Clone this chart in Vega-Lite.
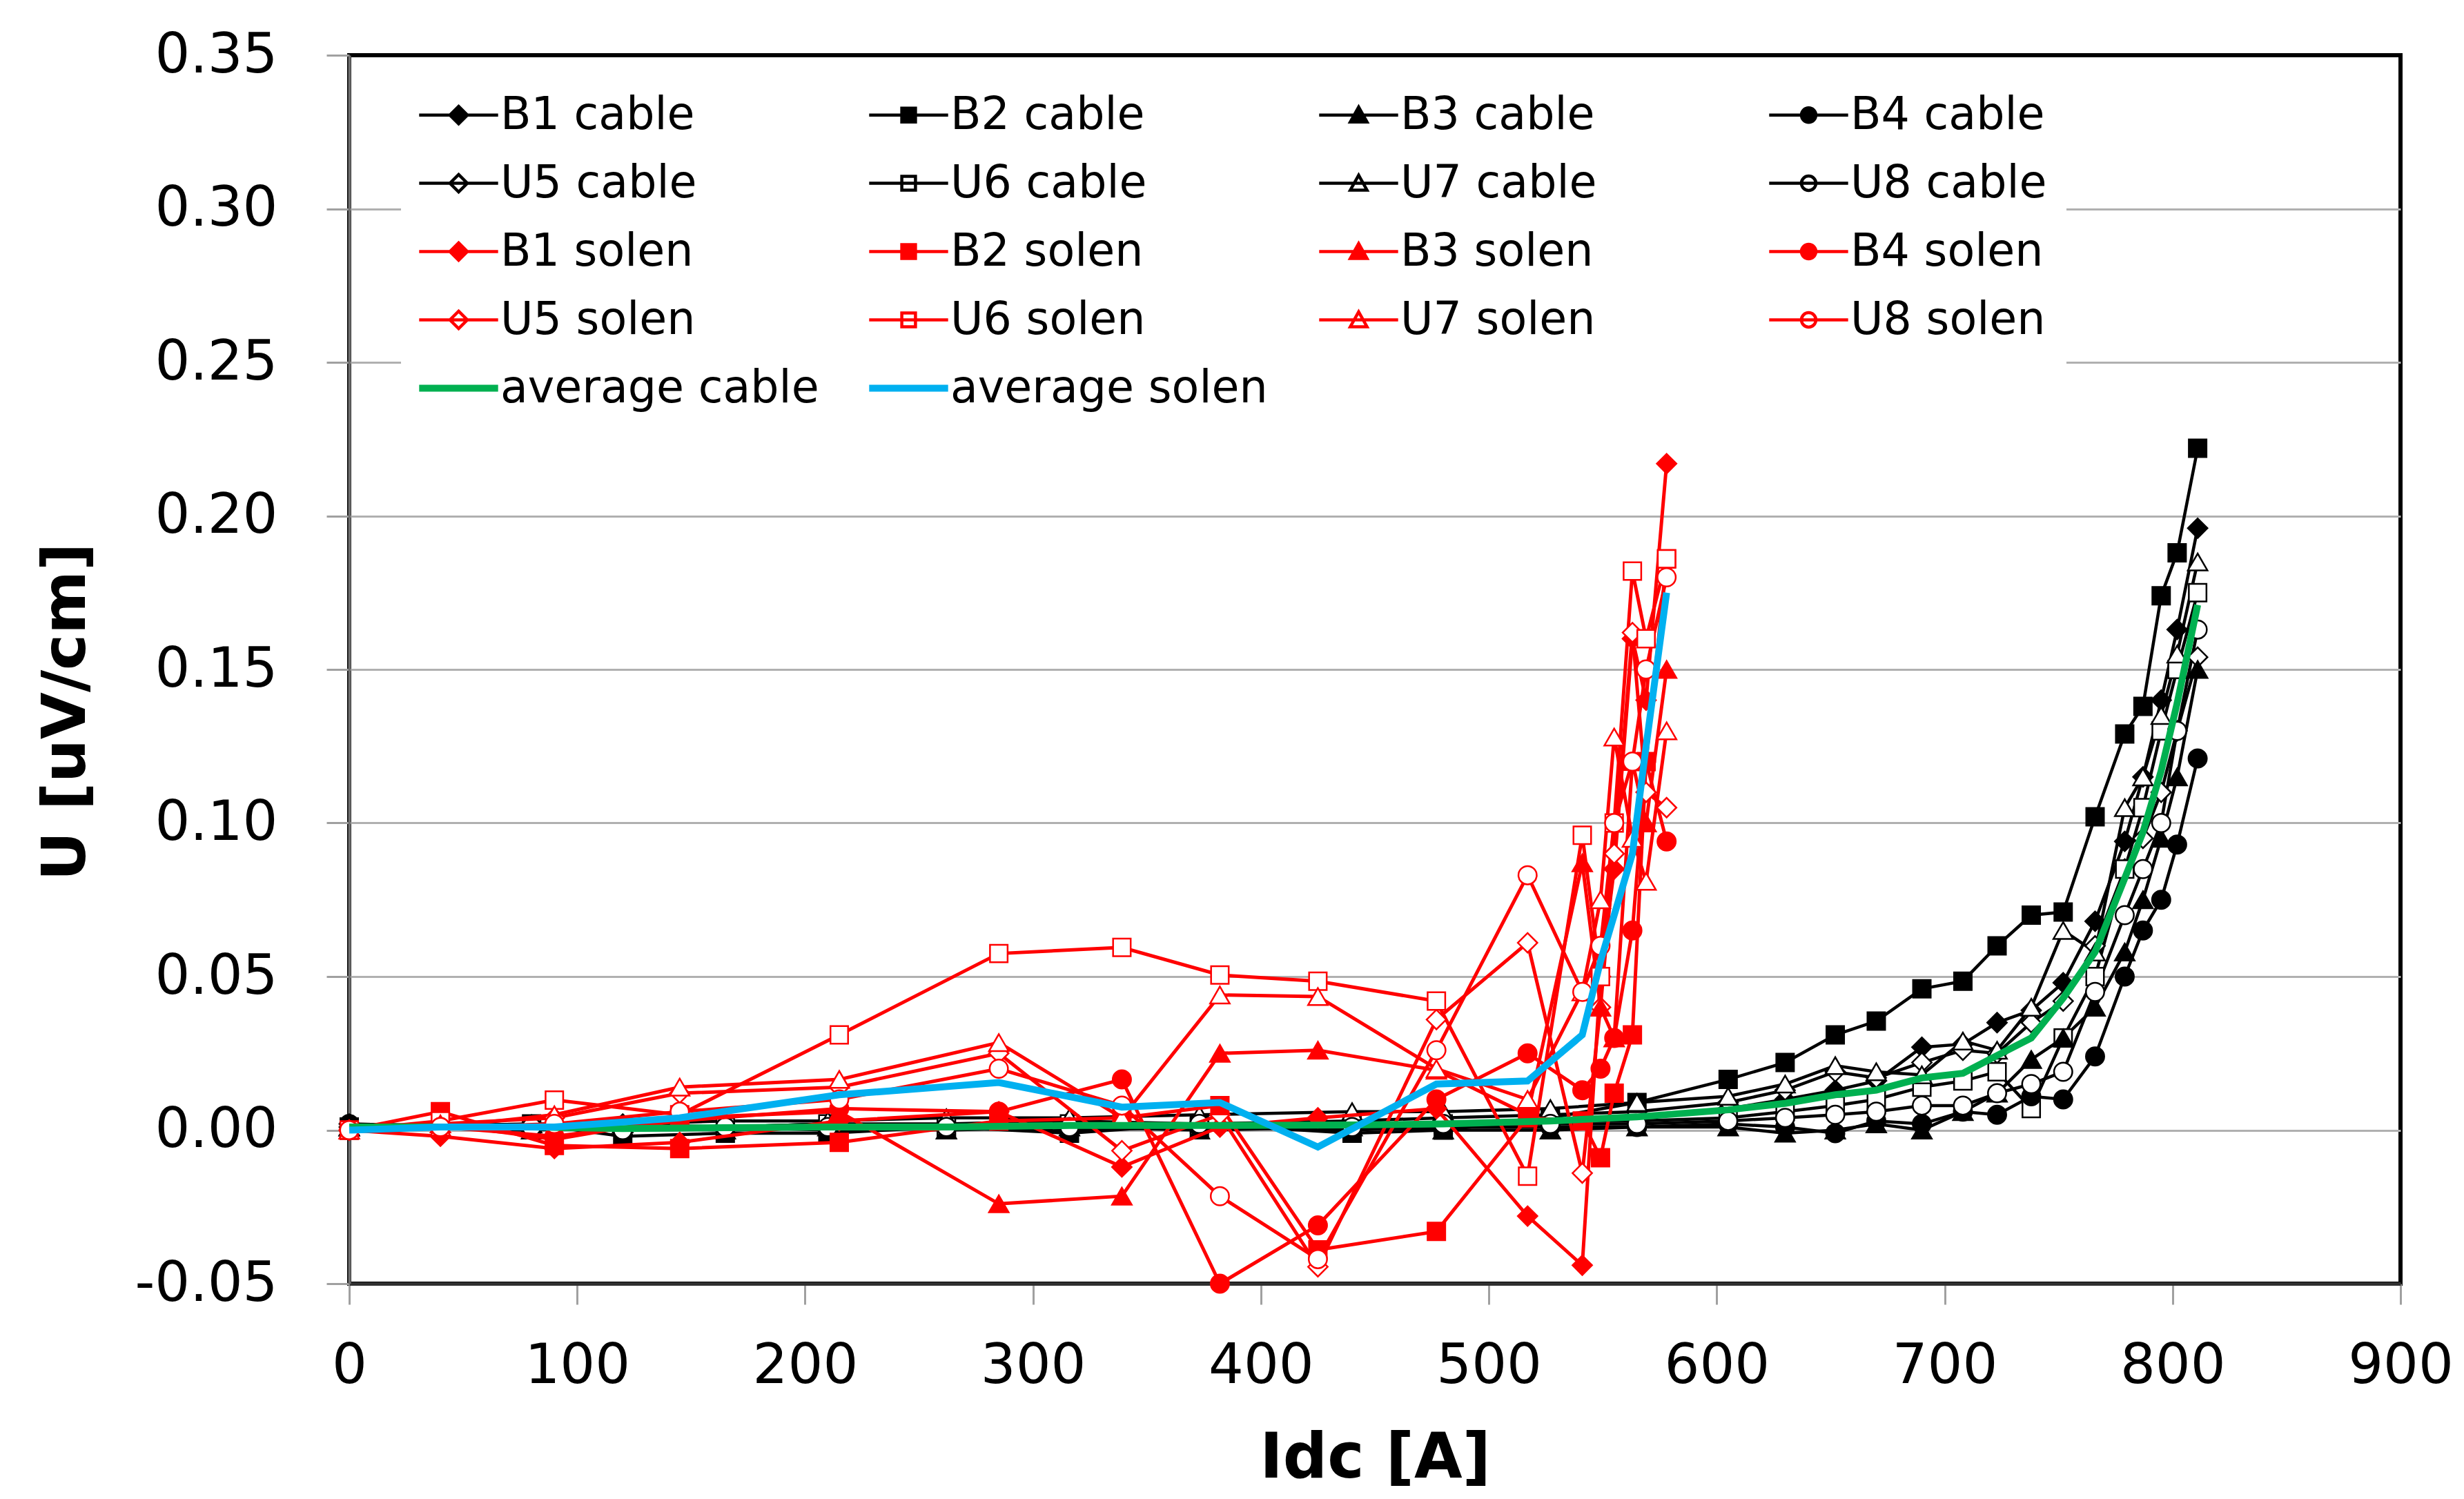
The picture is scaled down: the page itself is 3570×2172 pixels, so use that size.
{
  "$schema": "https://vega.github.io/schema/vega-lite/v6.json",
  "width": 2972,
  "height": 1780,
  "autosize": {"type": "none"},
  "padding": {"left": 506, "top": 80, "right": 92, "bottom": 312},
  "background": "#ffffff",
  "config": {
    "font": "DejaVu Sans",
    "view": {"stroke": "#000000", "strokeWidth": 6},
    "axis": {"labelFont": "DejaVu Sans", "titleFont": "DejaVu Sans", "labelColor": "#000000", "titleColor": "#000000", "labelLimit": 600},
    "axisX": {"grid": false, "tickSize": 30, "tickColor": "#a0a0a0", "tickWidth": 3, "domainColor": "#303030", "domainWidth": 5, "labelFontSize": 80, "labelPadding": 50, "titleFontSize": 90, "titleFontWeight": "bold", "titlePadding": 50, "labelFlush": false},
    "axisY": {"grid": true, "gridWidth": 3, "tickSize": 33, "tickColor": "#a0a0a0", "tickWidth": 3, "domainColor": "#707070", "domainWidth": 4, "labelFontSize": 80, "labelPadding": 71, "titleFontSize": 88, "titleFontWeight": "bold", "titleX": -410, "titleY": 951, "titleBaseline": "middle", "titleAlign": "center", "titleAngle": 270}
  },
  "datasets": {
    "d": [
      {"s":"B1 cable","I":0,"U":0.002},{"s":"B1 cable","I":80,"U":0.001},{"s":"B1 cable","I":120,"U":0.0},{"s":"B1 cable","I":165,"U":0.001},{"s":"B1 cable","I":210,"U":0.002},{"s":"B1 cable","I":262,"U":0.001},{"s":"B1 cable","I":316,"U":0.002},{"s":"B1 cable","I":373,"U":0.001},{"s":"B1 cable","I":440,"U":0.002},{"s":"B1 cable","I":480,"U":0.002},{"s":"B1 cable","I":527,"U":0.003},{"s":"B1 cable","I":565,"U":0.004},{"s":"B1 cable","I":605,"U":0.007},{"s":"B1 cable","I":630,"U":0.010},{"s":"B1 cable","I":652,"U":0.013},{"s":"B1 cable","I":670,"U":0.016},{"s":"B1 cable","I":690,"U":0.027},{"s":"B1 cable","I":708,"U":0.028},{"s":"B1 cable","I":723,"U":0.035},{"s":"B1 cable","I":738,"U":0.039},{"s":"B1 cable","I":752,"U":0.048},{"s":"B1 cable","I":766,"U":0.068},{"s":"B1 cable","I":779,"U":0.094},{"s":"B1 cable","I":787,"U":0.115},{"s":"B1 cable","I":795,"U":0.140},{"s":"B1 cable","I":802,"U":0.163},{"s":"B1 cable","I":811,"U":0.196},
      {"s":"B2 cable","I":0,"U":0.001},{"s":"B2 cable","I":80,"U":0.002},{"s":"B2 cable","I":120,"U":-0.002},{"s":"B2 cable","I":165,"U":-0.001},{"s":"B2 cable","I":210,"U":-0.001},{"s":"B2 cable","I":262,"U":0.001},{"s":"B2 cable","I":316,"U":-0.001},{"s":"B2 cable","I":373,"U":0.002},{"s":"B2 cable","I":440,"U":-0.001},{"s":"B2 cable","I":480,"U":0.0},{"s":"B2 cable","I":527,"U":0.004},{"s":"B2 cable","I":565,"U":0.009},{"s":"B2 cable","I":605,"U":0.0165},{"s":"B2 cable","I":630,"U":0.022},{"s":"B2 cable","I":652,"U":0.031},{"s":"B2 cable","I":670,"U":0.0355},{"s":"B2 cable","I":690,"U":0.046},{"s":"B2 cable","I":708,"U":0.0485},{"s":"B2 cable","I":723,"U":0.060},{"s":"B2 cable","I":738,"U":0.070},{"s":"B2 cable","I":752,"U":0.071},{"s":"B2 cable","I":766,"U":0.102},{"s":"B2 cable","I":779,"U":0.129},{"s":"B2 cable","I":787,"U":0.138},{"s":"B2 cable","I":795,"U":0.174},{"s":"B2 cable","I":802,"U":0.188},{"s":"B2 cable","I":811,"U":0.222},
      {"s":"B3 cable","I":0,"U":0.001},{"s":"B3 cable","I":80,"U":0.0},{"s":"B3 cable","I":120,"U":0.001},{"s":"B3 cable","I":165,"U":0.0},{"s":"B3 cable","I":210,"U":0.001},{"s":"B3 cable","I":262,"U":0.0},{"s":"B3 cable","I":316,"U":0.001},{"s":"B3 cable","I":373,"U":0.0},{"s":"B3 cable","I":440,"U":0.001},{"s":"B3 cable","I":480,"U":0.0},{"s":"B3 cable","I":527,"U":0.0},{"s":"B3 cable","I":565,"U":0.001},{"s":"B3 cable","I":605,"U":0.001},{"s":"B3 cable","I":630,"U":-0.001},{"s":"B3 cable","I":652,"U":0.0},{"s":"B3 cable","I":670,"U":0.002},{"s":"B3 cable","I":690,"U":0.0},{"s":"B3 cable","I":708,"U":0.006},{"s":"B3 cable","I":723,"U":0.012},{"s":"B3 cable","I":738,"U":0.023},{"s":"B3 cable","I":752,"U":0.030},{"s":"B3 cable","I":766,"U":0.040},{"s":"B3 cable","I":779,"U":0.058},{"s":"B3 cable","I":787,"U":0.075},{"s":"B3 cable","I":795,"U":0.095},{"s":"B3 cable","I":802,"U":0.115},{"s":"B3 cable","I":811,"U":0.150},
      {"s":"B4 cable","I":0,"U":0.002},{"s":"B4 cable","I":80,"U":0.001},{"s":"B4 cable","I":120,"U":0.0},{"s":"B4 cable","I":165,"U":0.001},{"s":"B4 cable","I":210,"U":0.0},{"s":"B4 cable","I":262,"U":0.001},{"s":"B4 cable","I":316,"U":0.0},{"s":"B4 cable","I":373,"U":0.001},{"s":"B4 cable","I":440,"U":0.0},{"s":"B4 cable","I":480,"U":0.001},{"s":"B4 cable","I":527,"U":0.001},{"s":"B4 cable","I":565,"U":0.001},{"s":"B4 cable","I":605,"U":0.002},{"s":"B4 cable","I":630,"U":0.001},{"s":"B4 cable","I":652,"U":-0.001},{"s":"B4 cable","I":670,"U":0.003},{"s":"B4 cable","I":690,"U":0.002},{"s":"B4 cable","I":708,"U":0.006},{"s":"B4 cable","I":723,"U":0.005},{"s":"B4 cable","I":738,"U":0.011},{"s":"B4 cable","I":752,"U":0.010},{"s":"B4 cable","I":766,"U":0.024},{"s":"B4 cable","I":779,"U":0.050},{"s":"B4 cable","I":787,"U":0.065},{"s":"B4 cable","I":795,"U":0.075},{"s":"B4 cable","I":802,"U":0.093},{"s":"B4 cable","I":811,"U":0.121},
      {"s":"U5 cable","I":0,"U":0.001},{"s":"U5 cable","I":80,"U":0.001},{"s":"U5 cable","I":120,"U":0.002},{"s":"U5 cable","I":165,"U":0.001},{"s":"U5 cable","I":210,"U":0.002},{"s":"U5 cable","I":262,"U":0.002},{"s":"U5 cable","I":316,"U":0.003},{"s":"U5 cable","I":373,"U":0.002},{"s":"U5 cable","I":440,"U":0.003},{"s":"U5 cable","I":480,"U":0.004},{"s":"U5 cable","I":527,"U":0.005},{"s":"U5 cable","I":565,"U":0.006},{"s":"U5 cable","I":605,"U":0.009},{"s":"U5 cable","I":630,"U":0.013},{"s":"U5 cable","I":652,"U":0.019},{"s":"U5 cable","I":670,"U":0.017},{"s":"U5 cable","I":690,"U":0.022},{"s":"U5 cable","I":708,"U":0.026},{"s":"U5 cable","I":723,"U":0.025},{"s":"U5 cable","I":738,"U":0.035},{"s":"U5 cable","I":752,"U":0.042},{"s":"U5 cable","I":766,"U":0.060},{"s":"U5 cable","I":779,"U":0.085},{"s":"U5 cable","I":787,"U":0.095},{"s":"U5 cable","I":795,"U":0.110},{"s":"U5 cable","I":802,"U":0.130},{"s":"U5 cable","I":811,"U":0.154},
      {"s":"U6 cable","I":0,"U":0.0},{"s":"U6 cable","I":80,"U":0.001},{"s":"U6 cable","I":120,"U":0.001},{"s":"U6 cable","I":165,"U":0.001},{"s":"U6 cable","I":210,"U":0.002},{"s":"U6 cable","I":262,"U":0.001},{"s":"U6 cable","I":316,"U":0.002},{"s":"U6 cable","I":373,"U":0.001},{"s":"U6 cable","I":440,"U":0.002},{"s":"U6 cable","I":480,"U":0.002},{"s":"U6 cable","I":527,"U":0.003},{"s":"U6 cable","I":565,"U":0.003},{"s":"U6 cable","I":605,"U":0.004},{"s":"U6 cable","I":630,"U":0.006},{"s":"U6 cable","I":652,"U":0.008},{"s":"U6 cable","I":670,"U":0.010},{"s":"U6 cable","I":690,"U":0.014},{"s":"U6 cable","I":708,"U":0.016},{"s":"U6 cable","I":723,"U":0.019},{"s":"U6 cable","I":738,"U":0.007},{"s":"U6 cable","I":752,"U":0.030},{"s":"U6 cable","I":766,"U":0.050},{"s":"U6 cable","I":779,"U":0.085},{"s":"U6 cable","I":787,"U":0.105},{"s":"U6 cable","I":795,"U":0.130},{"s":"U6 cable","I":802,"U":0.150},{"s":"U6 cable","I":811,"U":0.175},
      {"s":"U7 cable","I":0,"U":0.001},{"s":"U7 cable","I":80,"U":0.002},{"s":"U7 cable","I":120,"U":0.002},{"s":"U7 cable","I":165,"U":0.003},{"s":"U7 cable","I":210,"U":0.003},{"s":"U7 cable","I":262,"U":0.004},{"s":"U7 cable","I":316,"U":0.004},{"s":"U7 cable","I":373,"U":0.005},{"s":"U7 cable","I":440,"U":0.006},{"s":"U7 cable","I":480,"U":0.006},{"s":"U7 cable","I":527,"U":0.007},{"s":"U7 cable","I":565,"U":0.009},{"s":"U7 cable","I":605,"U":0.011},{"s":"U7 cable","I":630,"U":0.015},{"s":"U7 cable","I":652,"U":0.021},{"s":"U7 cable","I":670,"U":0.019},{"s":"U7 cable","I":690,"U":0.018},{"s":"U7 cable","I":708,"U":0.029},{"s":"U7 cable","I":723,"U":0.026},{"s":"U7 cable","I":738,"U":0.040},{"s":"U7 cable","I":752,"U":0.065},{"s":"U7 cable","I":766,"U":0.058},{"s":"U7 cable","I":779,"U":0.105},{"s":"U7 cable","I":787,"U":0.115},{"s":"U7 cable","I":795,"U":0.135},{"s":"U7 cable","I":802,"U":0.155},{"s":"U7 cable","I":811,"U":0.185},
      {"s":"U8 cable","I":0,"U":0.0},{"s":"U8 cable","I":80,"U":0.001},{"s":"U8 cable","I":120,"U":0.0},{"s":"U8 cable","I":165,"U":0.001},{"s":"U8 cable","I":210,"U":0.001},{"s":"U8 cable","I":262,"U":0.001},{"s":"U8 cable","I":316,"U":0.001},{"s":"U8 cable","I":373,"U":0.002},{"s":"U8 cable","I":440,"U":0.001},{"s":"U8 cable","I":480,"U":0.002},{"s":"U8 cable","I":527,"U":0.002},{"s":"U8 cable","I":565,"U":0.002},{"s":"U8 cable","I":605,"U":0.003},{"s":"U8 cable","I":630,"U":0.004},{"s":"U8 cable","I":652,"U":0.005},{"s":"U8 cable","I":670,"U":0.006},{"s":"U8 cable","I":690,"U":0.008},{"s":"U8 cable","I":708,"U":0.008},{"s":"U8 cable","I":723,"U":0.012},{"s":"U8 cable","I":738,"U":0.015},{"s":"U8 cable","I":752,"U":0.019},{"s":"U8 cable","I":766,"U":0.045},{"s":"U8 cable","I":779,"U":0.070},{"s":"U8 cable","I":787,"U":0.085},{"s":"U8 cable","I":795,"U":0.100},{"s":"U8 cable","I":802,"U":0.130},{"s":"U8 cable","I":811,"U":0.163},
      {"s":"B1 solen","I":0,"U":0},{"s":"B1 solen","I":40,"U":-0.002},{"s":"B1 solen","I":90,"U":-0.006},{"s":"B1 solen","I":145,"U":-0.004},{"s":"B1 solen","I":215,"U":0.003},{"s":"B1 solen","I":285,"U":0.006},{"s":"B1 solen","I":339,"U":-0.012},{"s":"B1 solen","I":382,"U":0.001},{"s":"B1 solen","I":425,"U":0.004},{"s":"B1 solen","I":477,"U":0.007},{"s":"B1 solen","I":517,"U":-0.028},{"s":"B1 solen","I":541,"U":-0.044},{"s":"B1 solen","I":549,"U":0.050},{"s":"B1 solen","I":555,"U":0.085},{"s":"B1 solen","I":563,"U":0.160},{"s":"B1 solen","I":569,"U":0.140},{"s":"B1 solen","I":578,"U":0.217},
      {"s":"B2 solen","I":0,"U":0},{"s":"B2 solen","I":40,"U":0.006},{"s":"B2 solen","I":90,"U":-0.005},{"s":"B2 solen","I":145,"U":-0.006},{"s":"B2 solen","I":215,"U":-0.004},{"s":"B2 solen","I":285,"U":0.003},{"s":"B2 solen","I":339,"U":0.004},{"s":"B2 solen","I":382,"U":0.008},{"s":"B2 solen","I":425,"U":-0.039},{"s":"B2 solen","I":477,"U":-0.033},{"s":"B2 solen","I":517,"U":0.004},{"s":"B2 solen","I":541,"U":0.003},{"s":"B2 solen","I":549,"U":-0.009},{"s":"B2 solen","I":555,"U":0.012},{"s":"B2 solen","I":563,"U":0.031},{"s":"B2 solen","I":569,"U":0.120},{"s":"B2 solen","I":578,"U":0.186},
      {"s":"B3 solen","I":0,"U":0},{"s":"B3 solen","I":40,"U":0.002},{"s":"B3 solen","I":90,"U":-0.003},{"s":"B3 solen","I":145,"U":0.004},{"s":"B3 solen","I":215,"U":0.006},{"s":"B3 solen","I":285,"U":-0.024},{"s":"B3 solen","I":339,"U":-0.0215},{"s":"B3 solen","I":382,"U":0.025},{"s":"B3 solen","I":425,"U":0.026},{"s":"B3 solen","I":477,"U":0.0195},{"s":"B3 solen","I":517,"U":0.005},{"s":"B3 solen","I":541,"U":0.087},{"s":"B3 solen","I":549,"U":0.040},{"s":"B3 solen","I":555,"U":0.030},{"s":"B3 solen","I":563,"U":0.120},{"s":"B3 solen","I":569,"U":0.100},{"s":"B3 solen","I":578,"U":0.150},
      {"s":"B4 solen","I":0,"U":0},{"s":"B4 solen","I":40,"U":0.001},{"s":"B4 solen","I":90,"U":-0.002},{"s":"B4 solen","I":145,"U":0.003},{"s":"B4 solen","I":215,"U":0.007},{"s":"B4 solen","I":285,"U":0.006},{"s":"B4 solen","I":339,"U":0.0165},{"s":"B4 solen","I":382,"U":-0.050},{"s":"B4 solen","I":425,"U":-0.031},{"s":"B4 solen","I":477,"U":0.010},{"s":"B4 solen","I":517,"U":0.025},{"s":"B4 solen","I":541,"U":0.013},{"s":"B4 solen","I":549,"U":0.020},{"s":"B4 solen","I":555,"U":0.030},{"s":"B4 solen","I":563,"U":0.065},{"s":"B4 solen","I":569,"U":0.120},{"s":"B4 solen","I":578,"U":0.094},
      {"s":"U5 solen","I":0,"U":0},{"s":"U5 solen","I":40,"U":0.002},{"s":"U5 solen","I":90,"U":0.004},{"s":"U5 solen","I":145,"U":0.012},{"s":"U5 solen","I":215,"U":0.014},{"s":"U5 solen","I":285,"U":0.025},{"s":"U5 solen","I":339,"U":-0.0067},{"s":"U5 solen","I":382,"U":0.005},{"s":"U5 solen","I":425,"U":-0.0445},{"s":"U5 solen","I":477,"U":0.036},{"s":"U5 solen","I":517,"U":0.061},{"s":"U5 solen","I":541,"U":-0.014},{"s":"U5 solen","I":549,"U":0.040},{"s":"U5 solen","I":555,"U":0.090},{"s":"U5 solen","I":563,"U":0.162},{"s":"U5 solen","I":569,"U":0.110},{"s":"U5 solen","I":578,"U":0.105},
      {"s":"U6 solen","I":0,"U":0},{"s":"U6 solen","I":40,"U":0.003},{"s":"U6 solen","I":90,"U":0.0098},{"s":"U6 solen","I":145,"U":0.005},{"s":"U6 solen","I":215,"U":0.031},{"s":"U6 solen","I":285,"U":0.0575},{"s":"U6 solen","I":339,"U":0.0595},{"s":"U6 solen","I":382,"U":0.0505},{"s":"U6 solen","I":425,"U":0.0485},{"s":"U6 solen","I":477,"U":0.042},{"s":"U6 solen","I":517,"U":-0.015},{"s":"U6 solen","I":541,"U":0.096},{"s":"U6 solen","I":549,"U":0.050},{"s":"U6 solen","I":555,"U":0.100},{"s":"U6 solen","I":563,"U":0.182},{"s":"U6 solen","I":569,"U":0.160},{"s":"U6 solen","I":578,"U":0.186},
      {"s":"U7 solen","I":0,"U":0},{"s":"U7 solen","I":40,"U":0.001},{"s":"U7 solen","I":90,"U":0.005},{"s":"U7 solen","I":145,"U":0.014},{"s":"U7 solen","I":215,"U":0.0165},{"s":"U7 solen","I":285,"U":0.0285},{"s":"U7 solen","I":339,"U":0.004},{"s":"U7 solen","I":382,"U":0.044},{"s":"U7 solen","I":425,"U":0.0435},{"s":"U7 solen","I":477,"U":0.020},{"s":"U7 solen","I":517,"U":0.010},{"s":"U7 solen","I":541,"U":0.045},{"s":"U7 solen","I":549,"U":0.075},{"s":"U7 solen","I":555,"U":0.128},{"s":"U7 solen","I":563,"U":0.095},{"s":"U7 solen","I":569,"U":0.081},{"s":"U7 solen","I":578,"U":0.130},
      {"s":"U8 solen","I":0,"U":0},{"s":"U8 solen","I":40,"U":0.001},{"s":"U8 solen","I":90,"U":0.002},{"s":"U8 solen","I":145,"U":0.006},{"s":"U8 solen","I":215,"U":0.010},{"s":"U8 solen","I":285,"U":0.020},{"s":"U8 solen","I":339,"U":0.008},{"s":"U8 solen","I":382,"U":-0.0215},{"s":"U8 solen","I":425,"U":-0.042},{"s":"U8 solen","I":477,"U":0.026},{"s":"U8 solen","I":517,"U":0.083},{"s":"U8 solen","I":541,"U":0.045},{"s":"U8 solen","I":549,"U":0.060},{"s":"U8 solen","I":555,"U":0.100},{"s":"U8 solen","I":563,"U":0.120},{"s":"U8 solen","I":569,"U":0.150},{"s":"U8 solen","I":578,"U":0.180},
      {"s":"average cable","I":0,"U":0.001},{"s":"average cable","I":80,"U":0.001},{"s":"average cable","I":120,"U":0.0005},{"s":"average cable","I":165,"U":0.0008},{"s":"average cable","I":210,"U":0.001},{"s":"average cable","I":262,"U":0.001},{"s":"average cable","I":316,"U":0.0015},{"s":"average cable","I":373,"U":0.0015},{"s":"average cable","I":440,"U":0.0017},{"s":"average cable","I":480,"U":0.002},{"s":"average cable","I":527,"U":0.003},{"s":"average cable","I":565,"U":0.0043},{"s":"average cable","I":605,"U":0.0066},{"s":"average cable","I":630,"U":0.0087},{"s":"average cable","I":652,"U":0.0115},{"s":"average cable","I":670,"U":0.013},{"s":"average cable","I":690,"U":0.017},{"s":"average cable","I":708,"U":0.0185},{"s":"average cable","I":723,"U":0.0243},{"s":"average cable","I":738,"U":0.030},{"s":"average cable","I":752,"U":0.043},{"s":"average cable","I":766,"U":0.058},{"s":"average cable","I":779,"U":0.082},{"s":"average cable","I":787,"U":0.097},{"s":"average cable","I":795,"U":0.117},{"s":"average cable","I":802,"U":0.139},{"s":"average cable","I":811,"U":0.171},
      {"s":"average solen","I":0,"U":0},{"s":"average solen","I":40,"U":0.001},{"s":"average solen","I":90,"U":0.001},{"s":"average solen","I":145,"U":0.004},{"s":"average solen","I":215,"U":0.0115},{"s":"average solen","I":285,"U":0.0155},{"s":"average solen","I":339,"U":0.0075},{"s":"average solen","I":382,"U":0.009},{"s":"average solen","I":425,"U":-0.0055},{"s":"average solen","I":477,"U":0.015},{"s":"average solen","I":517,"U":0.016},{"s":"average solen","I":541,"U":0.031},{"s":"average solen","I":549,"U":0.055},{"s":"average solen","I":555,"U":0.070},{"s":"average solen","I":563,"U":0.090},{"s":"average solen","I":569,"U":0.125},{"s":"average solen","I":578,"U":0.175}
    ]
  },
  "data": {"name": "d"},
  "encoding": {
    "x": {"field": "I", "type": "quantitative", "scale": {"domain": [0, 900], "nice": false, "zero": false}, "axis": {"values": [0, 100, 200, 300, 400, 500, 600, 700, 800, 900], "title": "Idc [A]"}},
    "y": {"field": "U", "type": "quantitative", "scale": {"domain": [-0.05, 0.35], "nice": false, "zero": false}, "axis": {"values": [-0.05, 0, 0.05, 0.1, 0.15, 0.2, 0.25, 0.3, 0.35], "labelExpr": "replace(format(datum.value, '.2f'), '\u2212', '-')", "title": "U [uV/cm]", "gridColor": {"condition": {"test": "datum.value > 0.34 || datum.value < -0.04", "value": "transparent"}, "value": "#b0b0b0"}}}
  },
  "layer": [
    {
      "transform": [{"filter": "test(/^[BU][0-9] cable$/, datum.s)"}],
      "mark": {"type": "line", "strokeWidth": 4.5},
      "encoding": {"color": {"field": "s", "type": "nominal",
        "scale": {"domain": ["B1 cable","B2 cable","B3 cable","B4 cable","U5 cable","U6 cable","U7 cable","U8 cable","B1 solen","B2 solen","B3 solen","B4 solen","U5 solen","U6 solen","U7 solen","U8 solen","average cable","average solen"], "range": ["#000000","#000000","#000000","#000000","#000000","#000000","#000000","#000000","#ff0000","#ff0000","#ff0000","#ff0000","#ff0000","#ff0000","#ff0000","#ff0000","#00b050","#00b0f0"]},
        "legend": {
          "orient": "none", "legendX": 75, "legendY": 26, "columns": 4, "direction": "horizontal", "title": null,
          "values": ["B1 cable","B2 cable","B3 cable","B4 cable","U5 cable","U6 cable","U7 cable","U8 cable","B1 solen","B2 solen","B3 solen","B4 solen","U5 solen","U6 solen","U7 solen","U8 solen","average cable","average solen"],
          "fillColor": "#ffffff", "padding": 28,
          "labelFont": "DejaVu Sans", "labelFontSize": 65, "labelColor": "#000000", "labelLimit": 1000,
          "symbolSize": 484, "symbolOffset": 23, "labelOffset": 28, "symbolStrokeWidth": 4,
          "rowPadding": 33, "columnPadding": 52, "gridAlign": "all",
          "encode": {"symbols": {"update": {
            "shape": {"signal": "test(/average/, datum.value) ? 'M-5.2,0H5.2' : test(/^(B1|U5)/, datum.value) ? 'M-5.2,0H5.2M0,-1.15L1.15,0L0,1.15L-1.15,0Z' : test(/^(B2|U6)/, datum.value) ? 'M-5.2,0H5.2M-0.9,-0.9H0.9V0.9H-0.9Z' : test(/^(B3|U7)/, datum.value) ? 'M-5.2,0H5.2M0,-1.05L1.1,0.9H-1.1Z' : 'M-5.2,0H5.2M0.95,0A0.95,0.95,0,1,1,-0.95,0A0.95,0.95,0,1,1,0.95,0Z'"},
            "fill": {"scale": "fill", "field": "value"},
            "stroke": {"scale": "color", "field": "value"},
            "strokeWidth": {"signal": "test(/average/, datum.value) ? 10 : 4.5"},
            "opacity": {"value": 1}
          }}}
        }
      }}
    },
    {
      "transform": [{"filter": "test(/^(B1|U5) cable$/, datum.s)"}],
      "mark": {"type": "point", "shape": "diamond", "size": 800, "filled": false, "strokeWidth": 2.5, "opacity": 1},
      "encoding": {
        "color": {"field": "s", "type": "nominal", "legend": null, "scale": {"domain": ["B1 cable","B2 cable","B3 cable","B4 cable","U5 cable","U6 cable","U7 cable","U8 cable","B1 solen","B2 solen","B3 solen","B4 solen","U5 solen","U6 solen","U7 solen","U8 solen","average cable","average solen"], "range": ["#000000","#000000","#000000","#000000","#000000","#000000","#000000","#000000","#ff0000","#ff0000","#ff0000","#ff0000","#ff0000","#ff0000","#ff0000","#ff0000","#00b050","#00b0f0"]}},
        "fill": {"field": "s", "type": "nominal", "legend": null, "scale": {"domain": ["B1 cable","B2 cable","B3 cable","B4 cable","U5 cable","U6 cable","U7 cable","U8 cable","B1 solen","B2 solen","B3 solen","B4 solen","U5 solen","U6 solen","U7 solen","U8 solen","average cable","average solen"], "range": ["#000000","#000000","#000000","#000000","#ffffff","#ffffff","#ffffff","#ffffff","#ff0000","#ff0000","#ff0000","#ff0000","#ffffff","#ffffff","#ffffff","#ffffff","transparent","transparent"]}}
      }
    },
    {
      "transform": [{"filter": "test(/^(B2|U6) cable$/, datum.s)"}],
      "mark": {"type": "point", "shape": "square", "size": 650, "filled": false, "strokeWidth": 2.5, "opacity": 1},
      "encoding": {
        "color": {"field": "s", "type": "nominal", "legend": null, "scale": {"domain": ["B1 cable","B2 cable","B3 cable","B4 cable","U5 cable","U6 cable","U7 cable","U8 cable","B1 solen","B2 solen","B3 solen","B4 solen","U5 solen","U6 solen","U7 solen","U8 solen","average cable","average solen"], "range": ["#000000","#000000","#000000","#000000","#000000","#000000","#000000","#000000","#ff0000","#ff0000","#ff0000","#ff0000","#ff0000","#ff0000","#ff0000","#ff0000","#00b050","#00b0f0"]}},
        "fill": {"field": "s", "type": "nominal", "legend": null, "scale": {"domain": ["B1 cable","B2 cable","B3 cable","B4 cable","U5 cable","U6 cable","U7 cable","U8 cable","B1 solen","B2 solen","B3 solen","B4 solen","U5 solen","U6 solen","U7 solen","U8 solen","average cable","average solen"], "range": ["#000000","#000000","#000000","#000000","#ffffff","#ffffff","#ffffff","#ffffff","#ff0000","#ff0000","#ff0000","#ff0000","#ffffff","#ffffff","#ffffff","#ffffff","transparent","transparent"]}}
      }
    },
    {
      "transform": [{"filter": "test(/^(B3|U7) cable$/, datum.s)"}],
      "mark": {"type": "point", "shape": "triangle-up", "size": 800, "filled": false, "strokeWidth": 2.5, "opacity": 1},
      "encoding": {
        "color": {"field": "s", "type": "nominal", "legend": null, "scale": {"domain": ["B1 cable","B2 cable","B3 cable","B4 cable","U5 cable","U6 cable","U7 cable","U8 cable","B1 solen","B2 solen","B3 solen","B4 solen","U5 solen","U6 solen","U7 solen","U8 solen","average cable","average solen"], "range": ["#000000","#000000","#000000","#000000","#000000","#000000","#000000","#000000","#ff0000","#ff0000","#ff0000","#ff0000","#ff0000","#ff0000","#ff0000","#ff0000","#00b050","#00b0f0"]}},
        "fill": {"field": "s", "type": "nominal", "legend": null, "scale": {"domain": ["B1 cable","B2 cable","B3 cable","B4 cable","U5 cable","U6 cable","U7 cable","U8 cable","B1 solen","B2 solen","B3 solen","B4 solen","U5 solen","U6 solen","U7 solen","U8 solen","average cable","average solen"], "range": ["#000000","#000000","#000000","#000000","#ffffff","#ffffff","#ffffff","#ffffff","#ff0000","#ff0000","#ff0000","#ff0000","#ffffff","#ffffff","#ffffff","#ffffff","transparent","transparent"]}}
      }
    },
    {
      "transform": [{"filter": "test(/^(B4|U8) cable$/, datum.s)"}],
      "mark": {"type": "point", "shape": "circle", "size": 700, "filled": false, "strokeWidth": 2.5, "opacity": 1},
      "encoding": {
        "color": {"field": "s", "type": "nominal", "legend": null, "scale": {"domain": ["B1 cable","B2 cable","B3 cable","B4 cable","U5 cable","U6 cable","U7 cable","U8 cable","B1 solen","B2 solen","B3 solen","B4 solen","U5 solen","U6 solen","U7 solen","U8 solen","average cable","average solen"], "range": ["#000000","#000000","#000000","#000000","#000000","#000000","#000000","#000000","#ff0000","#ff0000","#ff0000","#ff0000","#ff0000","#ff0000","#ff0000","#ff0000","#00b050","#00b0f0"]}},
        "fill": {"field": "s", "type": "nominal", "legend": null, "scale": {"domain": ["B1 cable","B2 cable","B3 cable","B4 cable","U5 cable","U6 cable","U7 cable","U8 cable","B1 solen","B2 solen","B3 solen","B4 solen","U5 solen","U6 solen","U7 solen","U8 solen","average cable","average solen"], "range": ["#000000","#000000","#000000","#000000","#ffffff","#ffffff","#ffffff","#ffffff","#ff0000","#ff0000","#ff0000","#ff0000","#ffffff","#ffffff","#ffffff","#ffffff","transparent","transparent"]}}
      }
    },
    {
      "transform": [{"filter": "test(/^[BU][0-9] solen$/, datum.s)"}],
      "mark": {"type": "line", "strokeWidth": 5},
      "encoding": {"color": {"field": "s", "type": "nominal", "legend": null, "scale": {"domain": ["B1 cable","B2 cable","B3 cable","B4 cable","U5 cable","U6 cable","U7 cable","U8 cable","B1 solen","B2 solen","B3 solen","B4 solen","U5 solen","U6 solen","U7 solen","U8 solen","average cable","average solen"], "range": ["#000000","#000000","#000000","#000000","#000000","#000000","#000000","#000000","#ff0000","#ff0000","#ff0000","#ff0000","#ff0000","#ff0000","#ff0000","#ff0000","#00b050","#00b0f0"]}}}
    },
    {
      "transform": [{"filter": "test(/^(B1|U5) solen$/, datum.s)"}],
      "mark": {"type": "point", "shape": "diamond", "size": 800, "filled": false, "strokeWidth": 2.5, "opacity": 1},
      "encoding": {
        "color": {"field": "s", "type": "nominal", "legend": null, "scale": {"domain": ["B1 cable","B2 cable","B3 cable","B4 cable","U5 cable","U6 cable","U7 cable","U8 cable","B1 solen","B2 solen","B3 solen","B4 solen","U5 solen","U6 solen","U7 solen","U8 solen","average cable","average solen"], "range": ["#000000","#000000","#000000","#000000","#000000","#000000","#000000","#000000","#ff0000","#ff0000","#ff0000","#ff0000","#ff0000","#ff0000","#ff0000","#ff0000","#00b050","#00b0f0"]}},
        "fill": {"field": "s", "type": "nominal", "legend": null, "scale": {"domain": ["B1 cable","B2 cable","B3 cable","B4 cable","U5 cable","U6 cable","U7 cable","U8 cable","B1 solen","B2 solen","B3 solen","B4 solen","U5 solen","U6 solen","U7 solen","U8 solen","average cable","average solen"], "range": ["#000000","#000000","#000000","#000000","#ffffff","#ffffff","#ffffff","#ffffff","#ff0000","#ff0000","#ff0000","#ff0000","#ffffff","#ffffff","#ffffff","#ffffff","transparent","transparent"]}}
      }
    },
    {
      "transform": [{"filter": "test(/^(B2|U6) solen$/, datum.s)"}],
      "mark": {"type": "point", "shape": "square", "size": 650, "filled": false, "strokeWidth": 2.5, "opacity": 1},
      "encoding": {
        "color": {"field": "s", "type": "nominal", "legend": null, "scale": {"domain": ["B1 cable","B2 cable","B3 cable","B4 cable","U5 cable","U6 cable","U7 cable","U8 cable","B1 solen","B2 solen","B3 solen","B4 solen","U5 solen","U6 solen","U7 solen","U8 solen","average cable","average solen"], "range": ["#000000","#000000","#000000","#000000","#000000","#000000","#000000","#000000","#ff0000","#ff0000","#ff0000","#ff0000","#ff0000","#ff0000","#ff0000","#ff0000","#00b050","#00b0f0"]}},
        "fill": {"field": "s", "type": "nominal", "legend": null, "scale": {"domain": ["B1 cable","B2 cable","B3 cable","B4 cable","U5 cable","U6 cable","U7 cable","U8 cable","B1 solen","B2 solen","B3 solen","B4 solen","U5 solen","U6 solen","U7 solen","U8 solen","average cable","average solen"], "range": ["#000000","#000000","#000000","#000000","#ffffff","#ffffff","#ffffff","#ffffff","#ff0000","#ff0000","#ff0000","#ff0000","#ffffff","#ffffff","#ffffff","#ffffff","transparent","transparent"]}}
      }
    },
    {
      "transform": [{"filter": "test(/^(B3|U7) solen$/, datum.s)"}],
      "mark": {"type": "point", "shape": "triangle-up", "size": 800, "filled": false, "strokeWidth": 2.5, "opacity": 1},
      "encoding": {
        "color": {"field": "s", "type": "nominal", "legend": null, "scale": {"domain": ["B1 cable","B2 cable","B3 cable","B4 cable","U5 cable","U6 cable","U7 cable","U8 cable","B1 solen","B2 solen","B3 solen","B4 solen","U5 solen","U6 solen","U7 solen","U8 solen","average cable","average solen"], "range": ["#000000","#000000","#000000","#000000","#000000","#000000","#000000","#000000","#ff0000","#ff0000","#ff0000","#ff0000","#ff0000","#ff0000","#ff0000","#ff0000","#00b050","#00b0f0"]}},
        "fill": {"field": "s", "type": "nominal", "legend": null, "scale": {"domain": ["B1 cable","B2 cable","B3 cable","B4 cable","U5 cable","U6 cable","U7 cable","U8 cable","B1 solen","B2 solen","B3 solen","B4 solen","U5 solen","U6 solen","U7 solen","U8 solen","average cable","average solen"], "range": ["#000000","#000000","#000000","#000000","#ffffff","#ffffff","#ffffff","#ffffff","#ff0000","#ff0000","#ff0000","#ff0000","#ffffff","#ffffff","#ffffff","#ffffff","transparent","transparent"]}}
      }
    },
    {
      "transform": [{"filter": "test(/^(B4|U8) solen$/, datum.s)"}],
      "mark": {"type": "point", "shape": "circle", "size": 700, "filled": false, "strokeWidth": 2.5, "opacity": 1},
      "encoding": {
        "color": {"field": "s", "type": "nominal", "legend": null, "scale": {"domain": ["B1 cable","B2 cable","B3 cable","B4 cable","U5 cable","U6 cable","U7 cable","U8 cable","B1 solen","B2 solen","B3 solen","B4 solen","U5 solen","U6 solen","U7 solen","U8 solen","average cable","average solen"], "range": ["#000000","#000000","#000000","#000000","#000000","#000000","#000000","#000000","#ff0000","#ff0000","#ff0000","#ff0000","#ff0000","#ff0000","#ff0000","#ff0000","#00b050","#00b0f0"]}},
        "fill": {"field": "s", "type": "nominal", "legend": null, "scale": {"domain": ["B1 cable","B2 cable","B3 cable","B4 cable","U5 cable","U6 cable","U7 cable","U8 cable","B1 solen","B2 solen","B3 solen","B4 solen","U5 solen","U6 solen","U7 solen","U8 solen","average cable","average solen"], "range": ["#000000","#000000","#000000","#000000","#ffffff","#ffffff","#ffffff","#ffffff","#ff0000","#ff0000","#ff0000","#ff0000","#ffffff","#ffffff","#ffffff","#ffffff","transparent","transparent"]}}
      }
    },
    {
      "transform": [{"filter": "test(/^average/, datum.s)"}],
      "mark": {"type": "line", "strokeWidth": 10},
      "encoding": {"color": {"field": "s", "type": "nominal", "legend": null,
        "scale": {"domain": ["B1 cable","B2 cable","B3 cable","B4 cable","U5 cable","U6 cable","U7 cable","U8 cable","B1 solen","B2 solen","B3 solen","B4 solen","U5 solen","U6 solen","U7 solen","U8 solen","average cable","average solen"], "range": ["#000000","#000000","#000000","#000000","#000000","#000000","#000000","#000000","#ff0000","#ff0000","#ff0000","#ff0000","#ff0000","#ff0000","#ff0000","#ff0000","#00b050","#00b0f0"]}
      }}
    }
  ]
}
